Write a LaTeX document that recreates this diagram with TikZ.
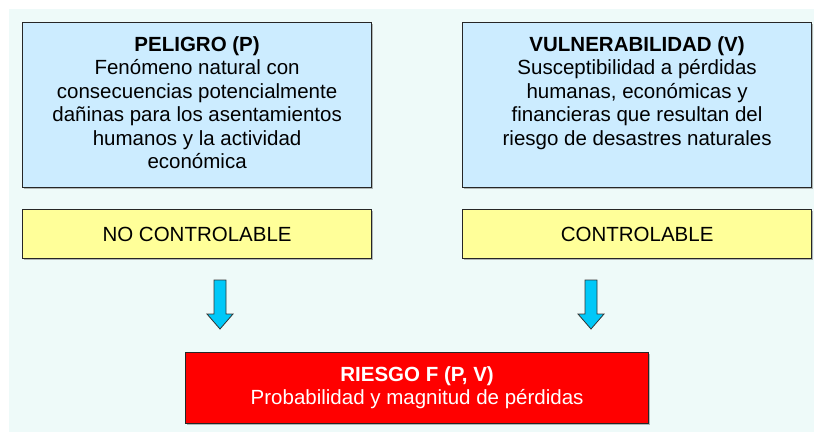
\documentclass[tikz,border=0pt]{standalone}
\usepackage{fontspec}
\setmainfont{Liberation Sans}
\usetikzlibrary{positioning,shadows}
\definecolor{bgcyan}{HTML}{EEFAF9}
\definecolor{peligroblue}{HTML}{CCECFF}
\definecolor{ctrlyellow}{HTML}{FFFF99}
\definecolor{riesgored}{HTML}{FF0000}
\definecolor{arrowcyan}{HTML}{00C8F8}
\tikzset{
  box/.style={draw=black!85,line width=1.2pt,anchor=north west,inner sep=0pt,
    drop shadow={shadow xshift=1.2pt,shadow yshift=-1.2pt,opacity=.45,fill=black!60}},
  bluebox/.style={box,fill=peligroblue,minimum width=349pt,minimum height=165pt},
  yellowbox/.style={box,fill=ctrlyellow,minimum width=349pt,minimum height=49pt,
    font=\fontsize{20.5}{23.5}\selectfont},
  redbox/.style={box,fill=riesgored,minimum width=463pt,minimum height=71pt},
  boxtext/.style={anchor=north,align=center,inner sep=0pt,
    font=\fontsize{20.5}{23.5}\selectfont},
  downarrow/.style={draw=black!80,line width=.8pt,fill=arrowcyan,line join=miter}
}
\begin{document}
\begin{tikzpicture}[x=1pt,y=-1pt]
\useasboundingbox (0,0) rectangle (814,432);
\fill[bgcyan] (9,9) rectangle (814,432);
% upper boxes
\node[bluebox] (peligro) at (22,22) {};
\node[boxtext] (peligrotxt) at ([yshift=-14pt]peligro.north)
  {\textbf{PELIGRO (P)}\\Fenómeno natural con\\consecuencias potencialmente\\dañinas para los asentamientos\\humanos y la actividad\\económica};
\node[bluebox] (vulner) at (462,22) {};
\node[boxtext] (vulnertxt) at ([yshift=-14pt]vulner.north)
  {\textbf{VULNERABILIDAD (V)}\\Susceptibilidad a pérdidas\\humanas, económicas y\\financieras que resultan del\\riesgo de desastres naturales};
% control boxes
\node[yellowbox] (noctrl) at (22,209) {NO CONTROLABLE};
\node[yellowbox] (ctrl) at (462,209) {CONTROLABLE};
% result
\node[redbox] (riesgo) at (185,352) {};
\node[boxtext,text=white] (riesgotxt) at ([yshift=-14pt]riesgo.north)
  {\textbf{RIESGO F (P, V)}\\Probabilidad y magnitud de pérdidas};
% arrows
\coordinate (arrL) at (220,280);
\coordinate (arrR) at (591,280);
\foreach \a in {arrL,arrR}{
  \draw[downarrow] ([xshift=-6pt]\a) -- ([xshift=6pt]\a) -- ++(0,34) -- ++(7,0)
    -- ([yshift=-49pt]\a) -- ([xshift=-13pt,yshift=-34pt]\a) -- ++(7,0) -- cycle;
}
\end{tikzpicture}
\end{document}
